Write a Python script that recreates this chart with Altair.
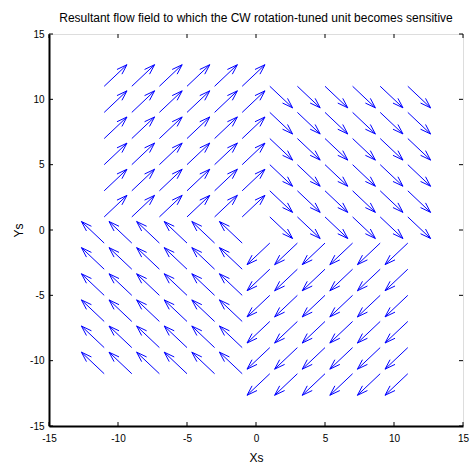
import altair as alt
import pandas as pd

# Tail positions of the arrows along each half-axis
grid_pos = [1, 3, 5, 7, 9, 11]

# One entry per quadrant: sign of the tail coordinates and the (scaled) flow vector
quad_x_sign = [-1, 1, 1, -1]
quad_y_sign = [1, 1, -1, -1]
quad_u = [1.65, 1.65, -1.65, -1.65]
quad_v = [1.65, -1.65, -1.65, 1.65]

tick_values = [-15, -10, -5, 0, 5, 10, 15]

TITLE = "Resultant flow field to which the CW rotation-tuned unit becomes sensitive"

# quiver-style arrow heads
alpha = 0.33  # head length relative to the vector
beta = 0.33   # head half-width relative to the vector

segments = []
for sx, sy, u, v in zip(quad_x_sign, quad_y_sign, quad_u, quad_v):
    for gx in grid_pos:
        for gy in grid_pos:
            x0, y0 = sx * gx, sy * gy
            xt, yt = x0 + u, y0 + v
            segments.append({"x": x0, "y": y0, "x2": xt, "y2": yt})
            segments.append({"x": xt - alpha * (u + beta * v),
                             "y": yt - alpha * (v - beta * u),
                             "x2": xt, "y2": yt})
            segments.append({"x": xt - alpha * (u - beta * v),
                             "y": yt - alpha * (v + beta * u),
                             "x2": xt, "y2": yt})
seg_df = pd.DataFrame(segments)
tick_df = pd.DataFrame({"t": tick_values})

W, H = 414, 392
FONT = "Liberation Sans"

# plain hyphen for negative tick labels
LABEL_EXPR = "replace(datum.label, '\u2212', '-')"

x_scale = alt.Scale(domain=[-15, 15], nice=False, zero=False)
y_scale = alt.Scale(domain=[-15, 15], nice=False, zero=False)
x_axis = alt.Axis(title="Xs", values=tick_values, ticks=False, grid=False,
                  domainColor="black", domainWidth=2, labelPadding=7,
                  titlePadding=9, labelFlush=False, labelExpr=LABEL_EXPR,
                  titleFontWeight="normal", titleFont=FONT, titleFontSize=12)
y_axis = alt.Axis(title="Ys", values=tick_values, ticks=False, grid=False,
                  domainColor="black", domainWidth=2, labelPadding=5,
                  titlePadding=4, labelFlush=False, labelExpr=LABEL_EXPR,
                  titleFontWeight="normal", titleFont=FONT, titleFontSize=12)

arrows = alt.Chart(seg_df).mark_rule(color="#0000ff", strokeWidth=1).encode(
    x=alt.X("x:Q", scale=x_scale, axis=x_axis),
    y=alt.Y("y:Q", scale=y_scale, axis=y_axis),
    x2="x2:Q",
    y2="y2:Q",
)

tick_base = alt.Chart(tick_df).mark_rule(color="black", strokeWidth=1)
ticks_bottom = tick_base.encode(
    x=alt.X("t:Q", scale=x_scale, axis=x_axis), y=alt.value(H), y2=alt.value(H - 4))
ticks_top = tick_base.encode(
    x=alt.X("t:Q", scale=x_scale, axis=x_axis), y=alt.value(0), y2=alt.value(4))
ticks_left = tick_base.encode(
    y=alt.Y("t:Q", scale=y_scale, axis=y_axis), x=alt.value(0), x2=alt.value(4))
ticks_right = tick_base.encode(
    y=alt.Y("t:Q", scale=y_scale, axis=y_axis), x=alt.value(W), x2=alt.value(W - 4))

chart = alt.layer(arrows, ticks_bottom, ticks_top, ticks_left, ticks_right).properties(
    width=W,
    height=H,
    title=alt.TitleParams(TITLE, font=FONT, fontSize=12, fontWeight="normal",
                          color="black", anchor="middle", offset=4),
    autosize=alt.AutoSizeParams(type="none"),
    padding={"left": 49, "top": 34, "right": 8, "bottom": 40},
).configure_view(
    stroke="black", strokeWidth=1
).configure_axis(
    labelFont=FONT, labelFontSize=12, labelColor="black",
    titleFont=FONT, titleFontSize=12, titleFontWeight="normal", titleColor="black",
).configure(background="white")

chart.save("out.html", embed_options={"renderer": "svg", "actions": False})
